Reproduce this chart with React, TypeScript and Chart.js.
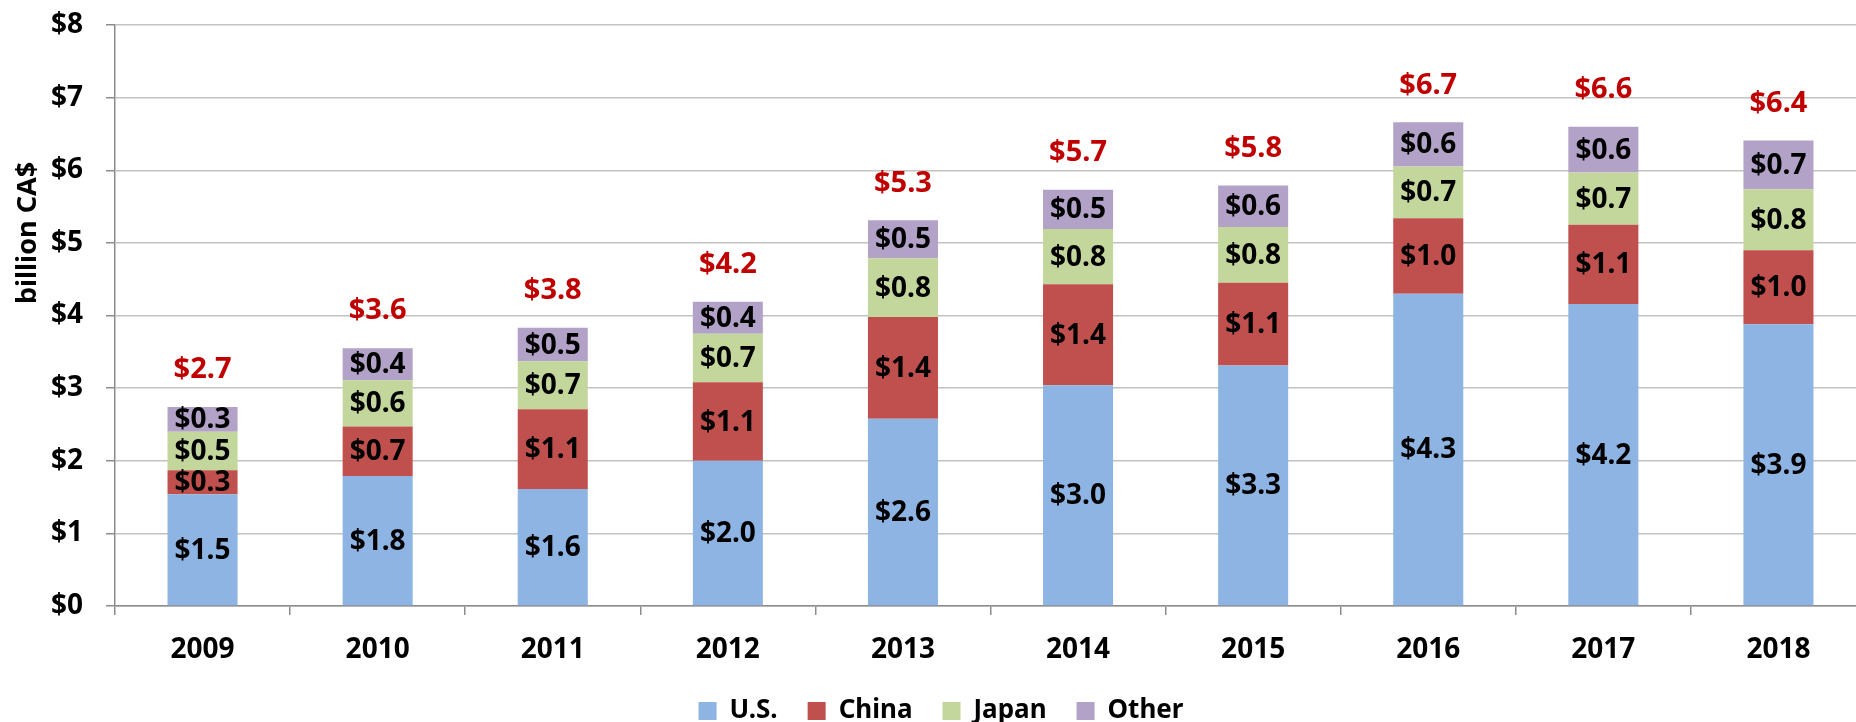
import React, { useEffect, useRef } from "react";
import { Chart, registerables } from "chart.js";

Chart.register(...registerables);

const years = ["2009", "2010", "2011", "2012", "2013", "2014", "2015", "2016", "2017", "2018"];
const usValues = [1.54, 1.79, 1.61, 2.0, 2.58, 3.04, 3.31, 4.3, 4.16, 3.88];
const chinaValues = [0.33, 0.68, 1.1, 1.08, 1.4, 1.39, 1.14, 1.04, 1.09, 1.02];
const japanValues = [0.53, 0.64, 0.66, 0.67, 0.81, 0.76, 0.77, 0.71, 0.72, 0.84];
const otherValues = [0.34, 0.44, 0.46, 0.44, 0.52, 0.54, 0.57, 0.61, 0.63, 0.67];
const totalLabels = ["$2.7", "$3.6", "$3.8", "$4.2", "$5.3", "$5.7", "$5.8", "$6.7", "$6.6", "$6.4"];
const seriesNames = ["U.S.", "China", "Japan", "Other"];
const seriesColors = ["#8EB4E3", "#C0504D", "#C3D69B", "#B3A2C7"];
const yAxisTitle = "billion CA$";

const FONT = '"Noto Sans", sans-serif';

const labelPlugin = {
  id: "stackLabels",
  afterDatasetsDraw(chart: any) {
    const ctx = chart.ctx;
    ctx.save();
    ctx.textAlign = "center";
    ctx.textBaseline = "middle";
    ctx.font = `bold 28px ${FONT}`;
    ctx.fillStyle = "#000000";
    chart.data.datasets.forEach((ds: any, i: number) => {
      const meta = chart.getDatasetMeta(i);
      meta.data.forEach((bar: any, j: number) => {
        const v = ds.data[j] as number;
        const p = bar.getProps(["x", "y", "base"], true);
        ctx.fillText("$" + v.toFixed(1), p.x, (p.y + p.base) / 2 + 1);
      });
    });
    const last = chart.getDatasetMeta(chart.data.datasets.length - 1);
    ctx.fillStyle = "#C00000";
    ctx.font = `bold 29px ${FONT}`;
    last.data.forEach((bar: any, j: number) => {
      const p = bar.getProps(["x", "y"], true);
      ctx.fillText(totalLabels[j], p.x, p.y - 37);
    });
    ctx.save();
    ctx.translate(28, 233);
    ctx.rotate(-Math.PI / 2);
    ctx.font = `bold 27px ${FONT}`;
    ctx.fillStyle = "#000000";
    ctx.fillText(yAxisTitle, 0, 0);
    ctx.restore();
    ctx.restore();
  },
};

export default function App() {
  const ref = useRef<HTMLCanvasElement | null>(null);

  useEffect(() => {
    if (!ref.current) return;
    const seriesValues = [usValues, chinaValues, japanValues, otherValues];
    const chart = new Chart(ref.current, {
      type: "bar",
      data: {
        labels: years,
        datasets: seriesNames.map((name, i) => ({
          label: name,
          data: seriesValues[i],
          backgroundColor: seriesColors[i],
          borderWidth: 0,
          categoryPercentage: 1,
          barPercentage: 0.4,
        })),
      },
      options: {
        animation: false,
        responsive: false,
        devicePixelRatio: 1,
        layout: { padding: { top: 25, left: 16, right: 0, bottom: 0 } },
        plugins: {
          legend: {
            position: "bottom",
            labels: {
              boxWidth: 18,
              boxHeight: 18,
              padding: 30,
              color: "#000000",
              font: { family: FONT, size: 26, weight: "bold" },
            },
          },
          tooltip: { enabled: false },
        },
        scales: {
          x: {
            stacked: true,
            grid: {
              drawOnChartArea: false,
              drawTicks: true,
              tickLength: 9,
              tickColor: "#8c8c8c",
              lineWidth: 1.5,
              offset: true,
            },
            border: { color: "#8c8c8c", width: 1.5 },
            ticks: {
              color: "#000000",
              font: { family: FONT, size: 28, weight: "bold" },
              padding: 18,
              maxRotation: 0,
              autoSkip: false,
            },
            afterFit: (s: any) => {
              s.height = 62;
            },
          },
          y: {
            stacked: true,
            min: 0,
            max: 8,
            grid: {
              color: "#c2c2c2",
              lineWidth: 1.5,
              tickLength: 9,
              tickColor: "#8c8c8c",
            },
            border: { color: "#8c8c8c", width: 1.5 },
            ticks: {
              stepSize: 1,
              color: "#000000",
              font: { family: FONT, size: 28, weight: "bold" },
              padding: 23,
              callback: (v: any) => "$" + v,
            },
            afterFit: (s: any) => {
              s.width = 99;
              s.paddingTop = 0;
              s.paddingBottom = 0;
            },
          },
        },
      },
      plugins: [labelPlugin],
    } as any);
    return () => chart.destroy();
  }, []);

  return (
    <div
      style={{
        position: "fixed",
        left: 0,
        top: 0,
        width: 1856,
        height: 722,
        overflow: "hidden",
        background: "#ffffff",
      }}
    >
      <canvas ref={ref} width={1866} height={734} style={{ display: "block", width: 1866, height: 734 }} />
    </div>
  );
}
